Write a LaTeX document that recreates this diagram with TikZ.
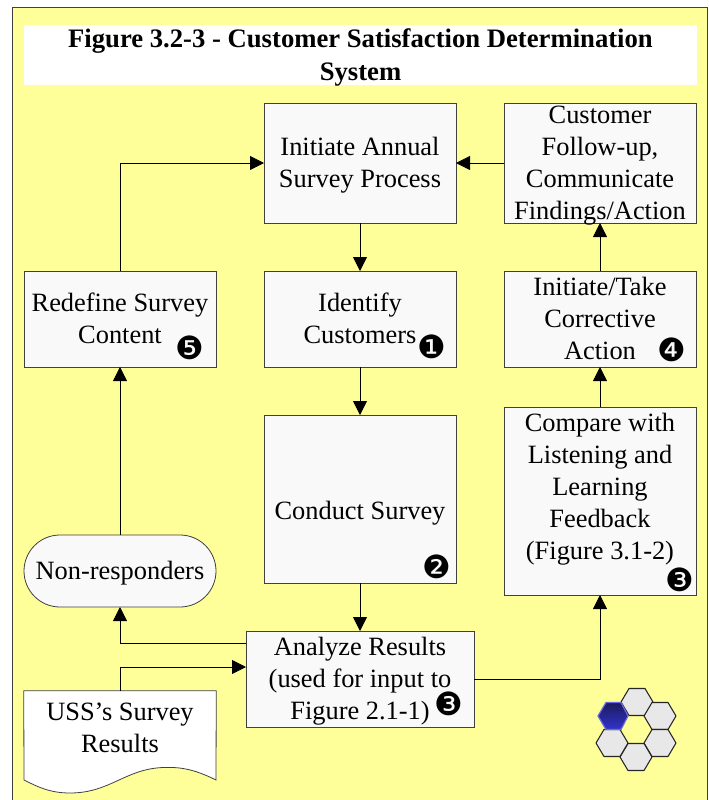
\documentclass[tikz,border=0pt]{standalone}
\usepackage{fontspec}
\setmainfont{Liberation Serif}
\newfontfamily\dingfont{DejaVu Sans}
\usetikzlibrary{arrows.meta,calc}
\newcommand{\badge}[1]{{\dingfont\fontsize{24}{24}\selectfont #1}}
\newcommand{\tx}[1]{\raisebox{-6.9pt}[0pt][0pt]{\begin{tabular}[c]{@{}c@{}}#1\end{tabular}}}
\definecolor{frameyellow}{HTML}{FFFF99}
\definecolor{boxfill}{HTML}{F9F9F9}
\definecolor{edgegray}{HTML}{404040}
\definecolor{hexgray}{HTML}{E8E8E8}
\definecolor{hextop}{HTML}{1A1A5E}
\definecolor{hexbot}{HTML}{3333CC}
\definecolor{hexedge}{HTML}{6A6AE0}
\tikzset{
  flowbox/.style={draw=edgegray,line width=0.6pt,fill=boxfill,outer sep=0pt,inner sep=0pt,align=center,font=\fontsize{19.8}{24}\selectfont,minimum width=144pt},
  textonly/.style={inner sep=0pt,align=center,font=\fontsize{19.8}{24}\selectfont},
  flow/.style={draw=black,line width=0.6pt,-{Triangle[length=10.5pt,width=10.5pt]}},
  mark badge/.style={inner sep=0pt},
  hexcell/.style={draw=black!85,line width=0.8pt,fill=hexgray,line join=round},
}
\begin{document}
\begin{tikzpicture}[x=0.75pt,y=-0.75pt]
\useasboundingbox (0,0) rectangle (709,800);
\begin{scope}
\clip (0,0) rectangle (709,800);
\draw[edgegray,fill=frameyellow,line width=0.6pt] (12,7) rectangle (707,812);
\end{scope}
\node[fill=white,inner sep=0pt,outer sep=0pt,minimum width=504.75pt,minimum height=45pt,font=\bfseries\fontsize{20}{24.75}\selectfont] (title) at (360.5,55) {\tx{Figure 3.2-3 - Customer Satisfaction Determination\\System}};

\node[flowbox,minimum height=90pt] (init) at (360,163) {\tx{Initiate Annual\\Survey Process}};
\node[flowbox,minimum height=90pt] (cust) at (600,163) {\tx{Customer\\Follow-up,\\Communicate\\Findings/Action}};
\node[flowbox,minimum height=72pt] (redef) at (120,319) {\tx{Redefine Survey\\Content}};
\node[flowbox,minimum height=72pt] (ident) at (360,319) {\tx{Identify\\Customers}};
\node[flowbox,minimum height=72pt] (take) at (600,319) {\tx{Initiate/Take\\Corrective\\Action}};
\node[flowbox,minimum height=126pt] (cond) at (360,499) {};
\node[textonly] (condt) at (360,513) {Conduct Survey};
\node[flowbox,minimum height=141pt] (comp) at (600,501) {};
\node[textonly] (compt) at (600,489) {Compare with\\Listening and\\Learning\\Feedback\\(Figure 3.1-2)};
\node[flowbox,minimum height=54pt,rounded corners=27pt] (non) at (120,571) {\tx{Non-responders}};
\node[flowbox,minimum width=171pt,minimum height=72pt] (ana) at (360,679) {\tx{Analyze Results\\(used for input to\\Figure 2.1-1)}};
\node[textonly,minimum width=144pt,minimum height=66.75pt] (uss) at (120,735.5) {};
\coordinate (usst) at (120,727.5);
\draw[edgegray,fill=white,line width=0.6pt] (uss.north west) -- (uss.north east) -- (216,780)
  .. controls (192,768) and (178,767) .. (163,767.5)
  .. controls (125,769) and (110,793) .. (70,793)
  .. controls (50,793) and (38,787) .. (24,780) -- cycle;
\node[textonly] at (usst) {USS’s Survey\\Results};

\node[mark badge] (b1) at (432,347) {\badge{❶}};
\node[mark badge] (b2) at (437,567) {\badge{❷}};
\node[mark badge] (b3a) at (680,580) {\badge{❸}};
\node[mark badge] (b4) at (672,350) {\badge{❹}};
\node[mark badge] (b5) at (190,348) {\badge{❺}};
\node[mark badge] (b3b) at (449,704) {\badge{❸}};

\draw[flow] (init) -- (ident);
\draw[flow] (ident) -- (cond);
\draw[flow] (cond) -- (ana);
\draw[flow] (cust) -- (init);
\draw[flow] (take) -- (cust);
\draw[flow] (comp) -- (take);
\draw[flow] (ana.east) -| (comp.south);
\draw[flow] (non) -- (redef);
\draw[flow] (redef.north) |- (init.west);
\draw[flow] ([yshift=27pt]ana.west) -| (non.south);
\draw[flow] (uss.north) |- ([yshift=9pt]ana.west);

\foreach \cx/\cy/\nm in {637/702/h1,660/716/h2,660/743/h3,636/757/h4,612/743/h5}{
  \draw[hexcell] (\cx-16,\cy) -- (\cx-8,\cy-13.5) -- (\cx+8,\cy-13.5) -- (\cx+16,\cy) -- (\cx+8,\cy+13.5) -- (\cx-8,\cy+13.5) -- cycle;
}
\draw[draw=hexedge,line width=0.9pt,top color=hextop,bottom color=hexbot,line join=round]
  (598,716) -- (606,702.5) -- (621,702.5) -- (628,716) -- (621,729.5) -- (606,729.5) -- cycle;
\end{tikzpicture}
\end{document}
